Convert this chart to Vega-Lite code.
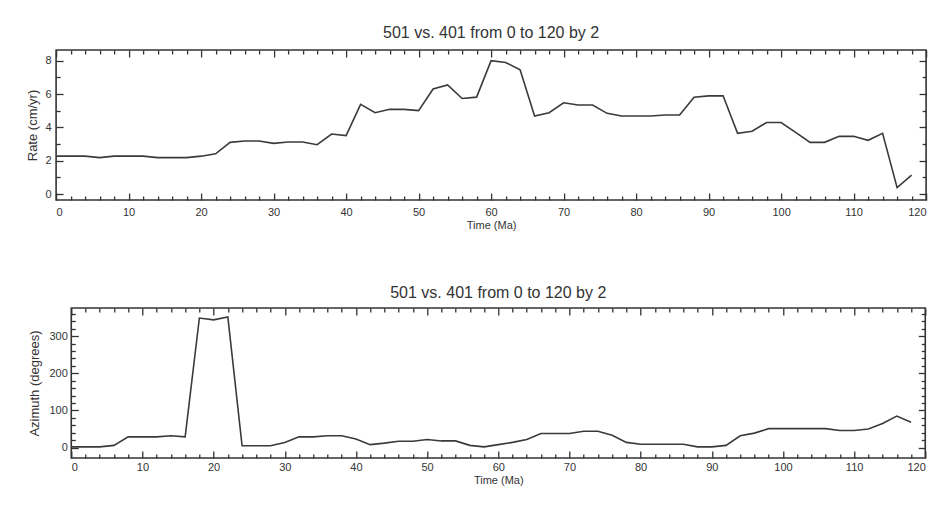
{
  "$schema": "https://vega.github.io/schema/vega-lite/v6.json",
  "background": "#ffffff",
  "padding": {"left": 26, "top": 24, "right": -3, "bottom": 5},
  "spacing": 53,
  "center": true,
  "config": {
    "font": "Liberation Sans",
    "view": {"stroke": "#333333", "strokeWidth": 1.6},
    "axis": {"domain": false, "grid": false, "labelColor": "#333333", "titleColor": "#333333", "labelFontSize": 11, "titleFontWeight": "normal", "tickColor": "#333333", "tickWidth": 1.3, "labelFont": "Liberation Sans", "titleFont": "Liberation Sans"},
    "title": {"font": "Liberation Sans", "fontSize": 16, "fontWeight": "normal", "color": "#333333", "offset": 8}
  },
  "datasets": {
    "rate": [
      {"t": 0, "v": 2.27}, {"t": 2, "v": 2.27}, {"t": 4, "v": 2.27}, {"t": 6, "v": 2.18}, {"t": 8, "v": 2.27},
      {"t": 10, "v": 2.27}, {"t": 12, "v": 2.27}, {"t": 14, "v": 2.18}, {"t": 16, "v": 2.18}, {"t": 18, "v": 2.18},
      {"t": 20, "v": 2.27}, {"t": 22, "v": 2.41}, {"t": 24, "v": 3.1}, {"t": 26, "v": 3.18}, {"t": 28, "v": 3.18},
      {"t": 30, "v": 3.04}, {"t": 32, "v": 3.12}, {"t": 34, "v": 3.12}, {"t": 36, "v": 2.96}, {"t": 38, "v": 3.6},
      {"t": 40, "v": 3.5}, {"t": 42, "v": 5.38}, {"t": 44, "v": 4.88}, {"t": 46, "v": 5.08}, {"t": 48, "v": 5.08},
      {"t": 50, "v": 5.0}, {"t": 52, "v": 6.3}, {"t": 54, "v": 6.54}, {"t": 56, "v": 5.73}, {"t": 58, "v": 5.81},
      {"t": 60, "v": 8.0}, {"t": 62, "v": 7.89}, {"t": 64, "v": 7.45}, {"t": 66, "v": 4.68}, {"t": 68, "v": 4.88},
      {"t": 70, "v": 5.47}, {"t": 72, "v": 5.34}, {"t": 74, "v": 5.34}, {"t": 76, "v": 4.84}, {"t": 78, "v": 4.68},
      {"t": 80, "v": 4.68}, {"t": 82, "v": 4.68}, {"t": 84, "v": 4.74}, {"t": 86, "v": 4.74}, {"t": 88, "v": 5.81},
      {"t": 90, "v": 5.89}, {"t": 92, "v": 5.89}, {"t": 94, "v": 3.64}, {"t": 96, "v": 3.77}, {"t": 98, "v": 4.29},
      {"t": 100, "v": 4.29}, {"t": 102, "v": 3.7}, {"t": 104, "v": 3.1}, {"t": 106, "v": 3.1}, {"t": 108, "v": 3.46},
      {"t": 110, "v": 3.46}, {"t": 112, "v": 3.22}, {"t": 114, "v": 3.64}, {"t": 116, "v": 0.38}, {"t": 118, "v": 1.13}
    ],
    "azimuth": [
      {"t": 0, "v": 2}, {"t": 2, "v": 2}, {"t": 4, "v": 2}, {"t": 6, "v": 6}, {"t": 8, "v": 29},
      {"t": 10, "v": 29}, {"t": 12, "v": 29}, {"t": 14, "v": 32}, {"t": 16, "v": 29}, {"t": 18, "v": 349},
      {"t": 20, "v": 344}, {"t": 22, "v": 352}, {"t": 24, "v": 5}, {"t": 26, "v": 5}, {"t": 28, "v": 5},
      {"t": 30, "v": 14}, {"t": 32, "v": 29}, {"t": 34, "v": 29}, {"t": 36, "v": 32}, {"t": 38, "v": 32},
      {"t": 40, "v": 23}, {"t": 42, "v": 8}, {"t": 44, "v": 12}, {"t": 46, "v": 17}, {"t": 48, "v": 17},
      {"t": 50, "v": 22}, {"t": 52, "v": 18}, {"t": 54, "v": 18}, {"t": 56, "v": 6}, {"t": 58, "v": 2},
      {"t": 60, "v": 8}, {"t": 62, "v": 14}, {"t": 64, "v": 22}, {"t": 66, "v": 38}, {"t": 68, "v": 38},
      {"t": 70, "v": 38}, {"t": 72, "v": 44}, {"t": 74, "v": 44}, {"t": 76, "v": 33}, {"t": 78, "v": 14},
      {"t": 80, "v": 9}, {"t": 82, "v": 9}, {"t": 84, "v": 9}, {"t": 86, "v": 9}, {"t": 88, "v": 2},
      {"t": 90, "v": 2}, {"t": 92, "v": 6}, {"t": 94, "v": 32}, {"t": 96, "v": 39}, {"t": 98, "v": 51},
      {"t": 100, "v": 51}, {"t": 102, "v": 51}, {"t": 104, "v": 51}, {"t": 106, "v": 51}, {"t": 108, "v": 46},
      {"t": 110, "v": 46}, {"t": 112, "v": 50}, {"t": 114, "v": 65}, {"t": 116, "v": 85}, {"t": 118, "v": 68}
    ]
  },
  "vconcat": [
    {
      "width": 870,
      "height": 150,
      "title": {"text": "501 vs. 401 from 0 to 120 by 2"},
      "data": {"name": "rate"},
      "layer": [
        {
          "mark": {"type": "line", "color": "#3a3a3a", "strokeWidth": 1.6, "clip": true},
          "encoding": {
            "x": {"field": "t", "type": "quantitative", "scale": {"domain": [0, 120], "nice": false, "zero": false},
              "axis": {"orient": "bottom", "values": [0, 10, 20, 30, 40, 50, 60, 70, 80, 90, 100, 110, 120], "tickSize": -7, "labelPadding": 13, "title": "Time (Ma)", "titleFontSize": 11, "titlePadding": 2}},
            "y": {"field": "v", "type": "quantitative", "scale": {"domain": [-0.36, 8.64], "nice": false, "zero": false},
              "axis": {"orient": "left", "values": [0, 2, 4, 6, 8], "tickSize": -7, "labelPadding": 12, "title": "Rate (cm/yr)", "titleFontSize": 13, "titlePadding": 5}}
          }
        },
        {
          "mark": {"type": "line", "strokeOpacity": 0},
          "encoding": {
            "x": {"field": "t", "type": "quantitative", "scale": {"domain": [0, 120], "nice": false, "zero": false},
              "axis": {"orient": "bottom", "values": [2, 4, 6, 8, 12, 14, 16, 18, 22, 24, 26, 28, 32, 34, 36, 38, 42, 44, 46, 48, 52, 54, 56, 58, 62, 64, 66, 68, 72, 74, 76, 78, 82, 84, 86, 88, 92, 94, 96, 98, 102, 104, 106, 108, 112, 114, 116, 118], "tickSize": -4, "labels": false, "title": null}},
            "y": {"field": "v", "type": "quantitative", "scale": {"domain": [-0.36, 8.64], "nice": false, "zero": false},
              "axis": {"orient": "left", "values": [1, 3, 5, 7], "tickSize": -4, "labels": false, "title": null}}
          }
        },
        {
          "mark": {"type": "line", "strokeOpacity": 0},
          "encoding": {
            "x": {"field": "t", "type": "quantitative", "scale": {"domain": [0, 120], "nice": false, "zero": false},
              "axis": {"orient": "top", "values": [0, 10, 20, 30, 40, 50, 60, 70, 80, 90, 100, 110, 120], "tickSize": -7, "labels": false, "title": null}},
            "y": {"field": "v", "type": "quantitative", "scale": {"domain": [-0.36, 8.64], "nice": false, "zero": false},
              "axis": {"orient": "right", "values": [0, 2, 4, 6, 8], "tickSize": -7, "labels": false, "minExtent": 15, "title": null}}
          }
        },
        {
          "mark": {"type": "line", "strokeOpacity": 0},
          "encoding": {
            "x": {"field": "t", "type": "quantitative", "scale": {"domain": [0, 120], "nice": false, "zero": false},
              "axis": {"orient": "top", "values": [2, 4, 6, 8, 12, 14, 16, 18, 22, 24, 26, 28, 32, 34, 36, 38, 42, 44, 46, 48, 52, 54, 56, 58, 62, 64, 66, 68, 72, 74, 76, 78, 82, 84, 86, 88, 92, 94, 96, 98, 102, 104, 106, 108, 112, 114, 116, 118], "tickSize": -4, "labels": false, "title": null}},
            "y": {"field": "v", "type": "quantitative", "scale": {"domain": [-0.36, 8.64], "nice": false, "zero": false},
              "axis": {"orient": "right", "values": [1, 3, 5, 7], "tickSize": -4, "labels": false, "title": null}}
          }
        }
      ],
      "resolve": {"axis": {"x": "independent", "y": "independent"}}
    },
    {
      "width": 854,
      "height": 150,
      "title": {"text": "501 vs. 401 from 0 to 120 by 2", "offset": 6},
      "data": {"name": "azimuth"},
      "layer": [
        {
          "mark": {"type": "line", "color": "#3a3a3a", "strokeWidth": 1.6, "clip": true},
          "encoding": {
            "x": {"field": "t", "type": "quantitative", "scale": {"domain": [0, 120], "nice": false, "zero": false},
              "axis": {"orient": "bottom", "values": [0, 10, 20, 30, 40, 50, 60, 70, 80, 90, 100, 110, 120], "tickSize": -7, "labelPadding": 10, "title": "Time (Ma)", "titleFontSize": 11, "titlePadding": 2}},
            "y": {"field": "v", "type": "quantitative", "scale": {"domain": [-28, 376], "nice": false, "zero": false},
              "axis": {"orient": "left", "values": [0, 100, 200, 300], "tickSize": -7, "labelPadding": 11, "title": "Azimuth (degrees)", "titleFontSize": 13, "titlePadding": 7}}
          }
        },
        {
          "mark": {"type": "line", "strokeOpacity": 0},
          "encoding": {
            "x": {"field": "t", "type": "quantitative", "scale": {"domain": [0, 120], "nice": false, "zero": false},
              "axis": {"orient": "bottom", "values": [2, 4, 6, 8, 12, 14, 16, 18, 22, 24, 26, 28, 32, 34, 36, 38, 42, 44, 46, 48, 52, 54, 56, 58, 62, 64, 66, 68, 72, 74, 76, 78, 82, 84, 86, 88, 92, 94, 96, 98, 102, 104, 106, 108, 112, 114, 116, 118], "tickSize": -4, "labels": false, "title": null}},
            "y": {"field": "v", "type": "quantitative", "scale": {"domain": [-28, 376], "nice": false, "zero": false},
              "axis": {"orient": "left", "values": [20, 40, 60, 80, 120, 140, 160, 180, 220, 240, 260, 280, 320, 340, 360], "tickSize": -4, "labels": false, "title": null}}
          }
        },
        {
          "mark": {"type": "line", "strokeOpacity": 0},
          "encoding": {
            "x": {"field": "t", "type": "quantitative", "scale": {"domain": [0, 120], "nice": false, "zero": false},
              "axis": {"orient": "top", "values": [0, 10, 20, 30, 40, 50, 60, 70, 80, 90, 100, 110, 120], "tickSize": -7, "labels": false, "title": null}},
            "y": {"field": "v", "type": "quantitative", "scale": {"domain": [-28, 376], "nice": false, "zero": false},
              "axis": {"orient": "right", "values": [0, 100, 200, 300], "tickSize": -7, "labels": false, "title": null}}
          }
        },
        {
          "mark": {"type": "line", "strokeOpacity": 0},
          "encoding": {
            "x": {"field": "t", "type": "quantitative", "scale": {"domain": [0, 120], "nice": false, "zero": false},
              "axis": {"orient": "top", "values": [2, 4, 6, 8, 12, 14, 16, 18, 22, 24, 26, 28, 32, 34, 36, 38, 42, 44, 46, 48, 52, 54, 56, 58, 62, 64, 66, 68, 72, 74, 76, 78, 82, 84, 86, 88, 92, 94, 96, 98, 102, 104, 106, 108, 112, 114, 116, 118], "tickSize": -4, "labels": false, "title": null}},
            "y": {"field": "v", "type": "quantitative", "scale": {"domain": [-28, 376], "nice": false, "zero": false},
              "axis": {"orient": "right", "values": [20, 40, 60, 80, 120, 140, 160, 180, 220, 240, 260, 280, 320, 340, 360], "tickSize": -4, "labels": false, "title": null}}
          }
        }
      ],
      "resolve": {"axis": {"x": "independent", "y": "independent"}}
    }
  ]
}
